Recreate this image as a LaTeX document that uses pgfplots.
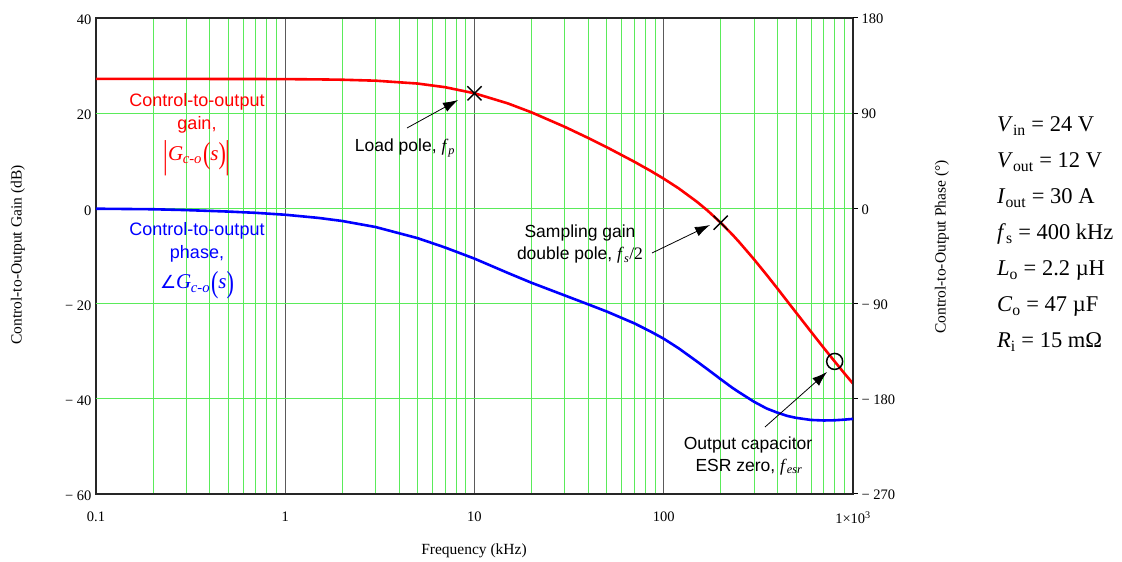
\documentclass[border=0pt]{standalone}
\usepackage{fontspec}
\usepackage{graphicx}
\usepackage{pgfplots}
\pgfplotsset{compat=1.18}
\usetikzlibrary{arrows.meta}
\setmainfont{Liberation Serif}
\newfontfamily\mcfont{Liberation Serif}
\newfontfamily\arial{Liberation Sans}
\newfontfamily\dejavu{DejaVu Sans}
\definecolor{gridgreen}{RGB}{90,235,90}
\definecolor{majgray}{RGB}{90,90,90}
\newcommand{\Gco}{\textit{G}\textsubscript{\kern-0.5pt\textit{c-o}}}
\newcommand{\bigpar}[1]{\raisebox{-0.16em}{\scalebox{1.05}[1.45]{#1}}}
\newcommand{\bigbar}[1]{\raisebox{-0.34em}{\scalebox{1.1}[1.85]{#1}}}

\pgfplotstableread{
f g
0.1 27.20
0.2 27.20
0.3 27.20
0.5 27.19
0.7 27.18
1 27.16
1.5 27.10
2 27.03
3 26.83
5 26.23
7 25.46
10 24.18
15 22.06
20 20.18
30 17.13
40 14.77
50 12.85
70 9.79
85 7.91
100 6.24
120 4.20
150 1.37
170 -0.42
200 -3.01
230 -5.46
250 -7.04
300 -10.71
350 -13.98
400 -16.90
450 -19.53
500 -21.87
600 -25.91
700 -29.29
800 -32.15
900 -34.64
1000 -36.82
}\gaindata

\pgfplotstableread{
f p
0.1 -0.3
0.2 -0.8
0.3 -1.6
0.5 -3.0
0.7 -4.2
1 -6.0
1.5 -9.0
2 -11.9
3 -17.6
5 -28.1
7 -37.0
10 -47.5
15 -61.0
20 -70.3
30 -82.3
40 -90.8
50 -97.5
70 -108.7
85 -116.3
100 -123.2
120 -132.3
150 -144.8
170 -152.0
200 -161.5
230 -169.5
250 -173.8
300 -182.8
350 -189.2
400 -193.2
450 -196.2
500 -198.0
600 -200.0
700 -200.5
800 -200.3
900 -199.7
1000 -199.0
}\phasedata

\begin{document}
\begin{tikzpicture}[x=1pt,y=1pt]
\useasboundingbox (0,0) rectangle (1122,562);

\begin{axis}[
  at={(96pt,68pt)}, anchor=south west,
  scale only axis, width=757pt, height=476pt,
  xmode=log, log basis x=10,
  xmin=0.1, xmax=1000, ymin=-60, ymax=40,
  xtick={0.1,1,10,100,1000},
  minor xtick={0.2,0.3,0.4,0.5,0.6,0.7,0.8,0.9,2,3,4,5,6,7,8,9,20,30,40,50,60,70,80,90,200,300,400,500,600,700,800,900},
  xticklabels={0.1,1,10,100,1\texttimes10\textsuperscript{3}},
  ytick={-60,-40,-20,0,20,40},
  yticklabels={− 60,− 40,− 20,0,20,40},
  xmajorgrids=true, xminorgrids=true,
  major grid style={majgray, line width=0.9pt},
  minor grid style={gridgreen, line width=0.9pt},
  extra y ticks={-40,-20,0,20},
  extra y tick labels={},
  extra y tick style={ymajorgrids=true, xmajorgrids=false, xminorgrids=false,
     major grid style={gridgreen, line width=0.9pt}},
  major tick length=0pt, minor tick length=0pt,
  axis line style={line width=1.7pt, black!85},
  ticklabel style={font=\mcfont\fontsize{14.5}{16}\selectfont},
  xticklabel style={yshift=-14pt},
  yticklabel style={xshift=-1pt, yshift=-2pt},
  /pgf/number format/assume math mode=true,
  clip=false,
]
\addplot[red, line width=2.6pt] table[x=f, y=g] {\gaindata};
\addplot[black, only marks, mark=x, mark size=10pt, mark options={line width=1.4pt}] coordinates {(10,24.18) (200,-3.01)};
\addplot[black, only marks, mark=o, mark size=8pt, mark options={line width=1.5pt}] coordinates {(800,-32.15)};
\end{axis}

\begin{axis}[
  at={(96pt,68pt)}, anchor=south west,
  scale only axis, width=757pt, height=476pt,
  xmode=log, xmin=0.1, xmax=1000, ymin=-270, ymax=180,
  axis x line=none, axis y line*=right,
  ytick={-270,-180,-90,0,90,180},
  yticklabels={− 270,− 180,− 90,0,90,180},
  tick align=outside, major tick length=5pt,
  tick style={black, line width=1pt},
  axis line style={line width=1.7pt, black!85},
  ticklabel style={font=\mcfont\fontsize{14.5}{16}\selectfont},
  yticklabel style={xshift=0pt, yshift=-1pt},
]
\addplot[blue, line width=2.6pt] table[x=f, y=p] {\phasedata};
\end{axis}

% axis titles
\node[rotate=90, font=\mcfont\fontsize{15.5}{17}\selectfont] at (18,307) {Control-to-Output Gain (dB)};
\node[rotate=90, font=\mcfont\fontsize{15.5}{17}\selectfont] at (942,315) {Control-to-Output Phase (°)};
\node[font=\mcfont\fontsize{15.5}{17}\selectfont] at (474,11) {Frequency (kHz)};

% curve labels
\node[red, font=\arial\fontsize{18}{20}\selectfont] at (197,460) {Control-to-output};
\node[red, font=\arial\fontsize{18}{20}\selectfont] at (197,437) {gain,};
\node[red, font=\fontsize{21}{22}\selectfont] at (197,404) {\bigbar{|}\Gco\kern1pt\bigpar{(}\textit{s}\bigpar{)}\bigbar{|}};
\node[blue, font=\arial\fontsize{18}{20}\selectfont] at (197,331) {Control-to-output};
\node[blue, font=\arial\fontsize{18}{20}\selectfont] at (197,308) {phase,};
\node[blue, font=\fontsize{21}{22}\selectfont] at (197,277) {{\dejavu\fontsize{18}{20}\selectfont ∠}\Gco\kern1pt\bigpar{(}\textit{s}\bigpar{)}};

% annotations
\node[font=\arial\fontsize{17.5}{20}\selectfont] at (405,414) {Load pole, {\rmfamily\textit{f}\textsubscript{\textit{p}}}};
\draw[black, line width=0.8pt, -{Latex[length=15pt,width=10pt]}] (407,434) -- (458,462);

\node[font=\arial\fontsize{17.5}{20}\selectfont] at (580,329) {Sampling gain};
\node[font=\arial\fontsize{17.5}{20}\selectfont] at (580,307) {double pole, {\rmfamily\textit{f}\textsubscript{\textit{s}}/2}};
\draw[black, line width=0.8pt, -{Latex[length=15pt,width=10pt]}] (652,309) -- (710,337);

\node[font=\arial\fontsize{17.5}{20}\selectfont] at (748,117) {Output capacitor};
\node[font=\arial\fontsize{17.5}{20}\selectfont] at (749,95) {ESR zero, {\rmfamily\textit{f}\textsubscript{\textit{esr}}}};
\draw[black, line width=0.8pt, -{Latex[length=15pt,width=10pt]}] (765,135) -- (827,190);

% parameters
\begin{scope}[every node/.style={anchor=base west, inner sep=0pt, font=\fontsize{22.5}{24}\selectfont}]
\node at (997,430) {\textit{V}\textsubscript{in} = 24 V};
\node at (997,394) {\textit{V}\textsubscript{out} = 12 V};
\node at (997,358) {\textit{I}\textsubscript{out} = 30 A};
\node at (997,322) {\textit{f}\textsubscript{s} = 400 kHz};
\node at (997,286) {\textit{L}\textsubscript{o} = 2.2 µH};
\node at (997,250) {\textit{C}\textsubscript{o} = 47 µF};
\node at (997,214) {\textit{R}\textsubscript{i} = 15 mΩ};
\end{scope}
\end{tikzpicture}
\end{document}
